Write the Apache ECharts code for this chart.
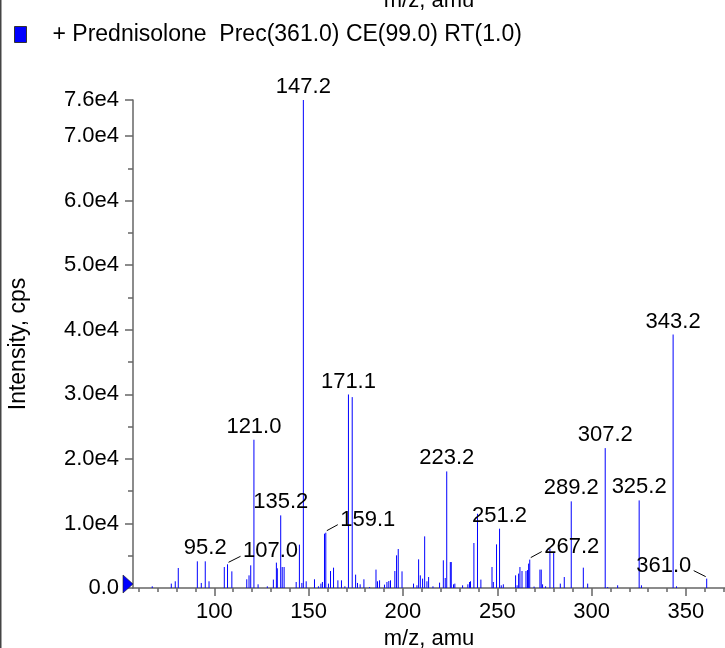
<!DOCTYPE html>
<html>
<head>
<meta charset="utf-8">
<script src="https://cdn.jsdelivr.net/npm/echarts@6/dist/echarts.min.js"></script>
<style>html,body{margin:0;padding:0;background:#fff}#c{width:725px;height:648px}</style>
</head>
<body>
<div id="c"></div>
<script>
// ---- data ----
const seriesName = '+ Prednisolone  Prec(361.0) CE(99.0) RT(1.0)';
const mzValues = [
  67.1,77.2,79.3,80.9,91.0,93.1,95.2,97.2,105.3,107.0,
  109.3,117.2,118.4,119.3,121.0,123.2,128.1,131.3,132.9,133.4,
  135.2,136.0,137.0,143.4,145.1,146.4,147.2,148.7,153.1,155.2,
  156.5,157.3,158.4,159.1,160.5,161.6,163.2,165.5,167.4,169.2,
  171.1,173.1,174.9,175.9,177.3,179.3,182.3,185.7,186.5,187.6,
  190.2,191.5,192.5,193.4,195.7,196.6,197.5,199.5,205.6,207.4,
  208.3,209.2,210.4,211.5,212.7,213.6,215.9,219.4,221.4,222.4,
  223.2,225.1,225.6,226.8,227.5,231.6,234.4,235.3,235.8,237.6,
  239.5,241.3,247.2,247.9,249.6,251.2,252.1,253.2,259.7,260.5,
  261.3,262.0,263.1,265.2,266.0,266.6,267.2,269.5,272.6,273.3,
  274.0,275.6,277.9,279.9,283.4,285.5,289.2,295.6,297.9,307.2,
  308.5,313.8,325.2,326.4,343.2,345.0,361.0
];
const intensities = [
  260,680,1040,3100,4130,780,4130,1040,3250,3670,
  2580,1350,1960,3510,22970,570,260,1300,3930,3050,
  11250,3250,3250,930,6720,780,75600,1040,1350,260,
  680,930,8420,8570,680,2630,3150,1190,1190,260,
  29980,29570,2070,780,570,1350,150,2850,1040,1190,
  520,930,1080,1190,2630,5060,6040,2580,680,420,
  4440,1960,1450,8000,1040,1700,260,830,4290,1550,
  18060,4020,4020,570,680,420,570,930,1040,6970,
  11500,1300,3250,930,6760,9190,420,570,1960,420,
  2230,3250,2630,2630,2780,3780,4400,220,2850,2850,
  570,260,6100,5420,680,1700,13420,3150,680,21670,
  150,420,13570,420,39270,260,1450
];
const labeledPeaks = [95.2,107.0,121.0,135.2,147.2,159.1,171.1,223.2,251.2,267.2,289.2,307.2,325.2,343.2,361.0];
const xTickValues = [100,150,200,250,300,350];
const xMinorTickValues = [60,70,80,90,110,120,130,140,160,170,180,190,210,220,230,240,260,270,280,290,310,320,330,340,360,370];
const yTickValues = [0,10000,20000,30000,40000,50000,60000,70000,75600];
const yTickLabels = ['0.0','1.0e4','2.0e4','3.0e4','4.0e4','5.0e4','6.0e4','7.0e4','7.6e4'];
const yMinorTickValues = [5000,15000,25000,35000,45000,55000,65000];
const X_MIN = 56.9, X_MAX = 370.7, Y_MAX = 75600;

// ---- styling (label nudges for crowded peaks, in pixels) ----
const FONT = '"Liberation Sans", Arial, sans-serif';
const labelNudge = { '107.0':[43,-13], '159.1':[42,-13], '267.2':[42,-13], '361.0':[-43,-13] };

const stickData = mzValues.map((m,i)=>[m, intensities[i]]);
const labelData = labeledPeaks.map(m=>[m, intensities[mzValues.indexOf(m)]]);

const chart = echarts.init(document.getElementById('c'), null, {renderer:'canvas'});
const axisColor = '#666';
const option = {
  animation:false,
  backgroundColor:'#fff',
  legend:{
    data:[seriesName], left:14, top:23, padding:0, icon:'rect', itemWidth:12, itemHeight:16,
    itemStyle:{borderColor:'#333', borderWidth:1},
    textStyle:{fontFamily:FONT, fontSize:23, color:'#000', padding:[0,0,0,21]},
    selectedMode:false
  },
  graphic:[
    {type:'rect', shape:{x:0,y:0,width:1.5,height:648}, style:{fill:'#444'}, silent:true},
    {type:'text', x:429, y:12, style:{text:'m/z, amu', font:'22px '+FONT, fill:'#000', align:'center', verticalAlign:'bottom'}, silent:true}
  ],
  grid:{left:133, right:0, top:100, bottom:60, containLabel:false, outerBoundsMode:'none'},
  xAxis:[
    {type:'value', min:X_MIN, max:X_MAX, name:'m/z, amu', nameLocation:'middle', nameGap:34,
     nameTextStyle:{fontFamily:FONT, fontSize:22, color:'#000'},
     axisLine:{show:true, onZero:false, lineStyle:{color:axisColor, width:1.5}},
     axisTick:{show:true, length:8, customValues:xTickValues, lineStyle:{color:axisColor, width:1.5}},
     axisLabel:{customValues:xTickValues, fontFamily:FONT, fontSize:22, color:'#000', margin:13},
     splitLine:{show:false}},
    {type:'value', min:X_MIN, max:X_MAX, position:'bottom',
     axisLine:{show:false},
     axisTick:{show:true, length:4, customValues:xMinorTickValues, lineStyle:{color:axisColor, width:1.5}},
     axisLabel:{show:false}, splitLine:{show:false}}
  ],
  yAxis:[
    {type:'value', min:0, max:Y_MAX, name:'Intensity, cps', nameLocation:'middle', nameGap:103,
     nameTextStyle:{fontFamily:FONT, fontSize:23, color:'#000'},
     axisLine:{show:true, onZero:false, lineStyle:{color:axisColor, width:1.5}},
     axisTick:{show:true, length:8, customValues:yTickValues, lineStyle:{color:axisColor, width:1.5}},
     axisLabel:{customValues:yTickValues, fontFamily:FONT, fontSize:22, color:'#000', margin:14,
       formatter:(v)=>yTickLabels[yTickValues.indexOf(v)] ?? ''},
     splitLine:{show:false}},
    {type:'value', min:0, max:Y_MAX, position:'left',
     axisLine:{show:false},
     axisTick:{show:true, length:5, customValues:yMinorTickValues, lineStyle:{color:axisColor, width:1.5}},
     axisLabel:{show:false}, splitLine:{show:false}}
  ],
  series:[
    {
      name:seriesName, type:'custom', xAxisIndex:0, yAxisIndex:0,
      itemStyle:{color:'#0000ff'},
      data:stickData, encode:{x:0,y:1},
      renderItem:(params, api)=>{
        const x = api.value(0), y = api.value(1);
        const p0 = api.coord([x,0]), p1 = api.coord([x,y]);
        return {type:'line', shape:{x1:p0[0], y1:p0[1], x2:p1[0], y2:p1[1]},
                style:{stroke:'#0000ff', lineWidth:1}};
      },
      markPoint:{
        symbol:'triangle', symbolSize:[18,10], symbolRotate:-90, symbolOffset:[-5,-4],
        silent:true, label:{show:false},
        itemStyle:{color:'#0000ff', borderColor:'#222', borderWidth:0.6},
        data:[{coord:[X_MIN,0]}]
      }
    },
    {
      name:'labels', type:'custom', xAxisIndex:0, yAxisIndex:0, z:5, silent:true,
      data:labelData, encode:{x:0,y:1},
      renderItem:(params, api)=>{
        const x = api.value(0), y = api.value(1);
        const p = api.coord([x,y]);
        const txt = x.toFixed(1);
        const nudge = labelNudge[txt];
        if (!nudge) {
          return {type:'text', x:p[0], y:p[1]-2,
            style:{text:txt, font:'22px '+FONT, fill:'#000', align:'center', verticalAlign:'bottom'}};
        }
        const s = Math.sign(nudge[0]);
        return {type:'group', children:[
          {type:'line', shape:{x1:p[0]+s*1, y1:p[1]-2, x2:p[0]+nudge[0]-s*30, y2:p[1]+nudge[1]+5},
           style:{stroke:'#000', lineWidth:1}},
          {type:'text', x:p[0]+nudge[0], y:p[1]+nudge[1],
           style:{text:txt, font:'22px '+FONT, fill:'#000', align:'center', verticalAlign:'middle'}}
        ]};
      }
    }
  ]
};
chart.setOption(option);
</script>
</body>
</html>
